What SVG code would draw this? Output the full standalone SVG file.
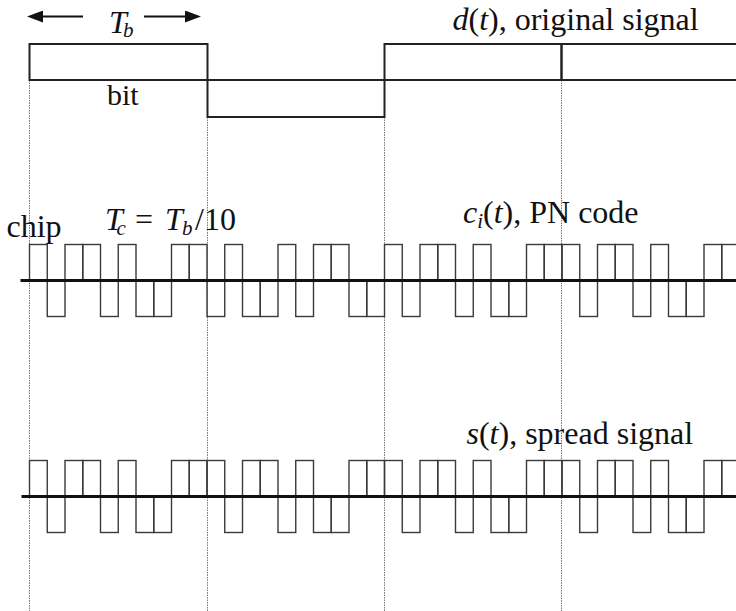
<svg xmlns="http://www.w3.org/2000/svg" xmlns:xlink="http://www.w3.org/1999/xlink" width="736" height="611" viewBox="0 0 736 611">
<style>
  .t { font-family: "Liberation Serif", "Times New Roman", serif; font-size: 32px; fill: #111; }
  .it { font-style: italic; }
  .sub { font-size: 21px; font-style: italic; }
  .dsig { fill: none; stroke: #222; stroke-width: 2; }
  .grid { stroke: #777; stroke-width: 1; stroke-dasharray: 1.5 1; fill: none; }
  .base { stroke: #111; stroke-width: 3; }
  .chip { fill: none; stroke: #3a3a3a; stroke-width: 1.4; }
  .arr { stroke: #111; stroke-width: 2; fill: none; marker-end: url(#ah); }
</style>
<defs>
  <marker id="ah" viewBox="0 0 16 12" refX="12" refY="6" markerWidth="16" markerHeight="12" markerUnits="userSpaceOnUse" orient="auto">
    <path d="M0,0 L16,6 L0,12 z" fill="#111"/>
  </marker>
  <rect id="ch" class="chip" width="17.75" height="36"/>
</defs>
<rect width="736" height="611" fill="#fff"/>

<g id="gridlines">
  <line class="grid" x1="29.5" y1="80" x2="29.5" y2="611"/>
  <line class="grid" x1="207.5" y1="117" x2="207.5" y2="611"/>
  <line class="grid" x1="384.5" y1="117" x2="384.5" y2="611"/>
  <line class="grid" x1="561.5" y1="80" x2="561.5" y2="611"/>
</g>

<g id="tb-arrows">
  <line class="arr" x1="83" y1="16.5" x2="31" y2="16.5"/>
  <line class="arr" x1="144" y1="16.5" x2="197" y2="16.5"/>
  <text class="t" x="109" y="33"><tspan class="it">T</tspan><tspan class="sub" x="123" dy="4">b</tspan></text>
</g>

<g id="d-signal">
  <rect class="dsig" x="29.5" y="44" width="178" height="36"/>
  <rect class="dsig" x="207.5" y="80" width="177" height="37"/>
  <rect class="dsig" x="384.5" y="44" width="177" height="36"/>
  <rect class="dsig" x="561.5" y="44" width="180" height="36"/>
  <text class="t" x="107" y="105" style="font-size:30px">bit</text>
  <text class="t" x="452.5" y="29.5"><tspan class="it">d</tspan>(<tspan class="it">t</tspan>), original signal</text>
</g>

<g id="c-signal">
  <text class="t" x="6.5" y="236.5">chip</text>
  <text class="t" x="105" y="230"><tspan class="it">T</tspan><tspan class="sub" x="116.5" dy="5">c</tspan><tspan x="135" dy="-5">=</tspan><tspan class="it" x="165">T</tspan><tspan class="sub" x="182" dy="5">b</tspan><tspan x="195" dy="-5">/10</tspan></text>
  <text class="t" x="463" y="223"><tspan class="it">c</tspan><tspan class="sub" dy="5">i</tspan><tspan dy="-5">(</tspan><tspan class="it">t</tspan>), PN code</text>
  <g id="c-chips">
    <use xlink:href="#ch" x="29.5" y="244.5"/>
    <use xlink:href="#ch" x="47.25" y="280.5"/>
    <use xlink:href="#ch" x="65" y="244.5"/>
    <use xlink:href="#ch" x="82.75" y="244.5"/>
    <use xlink:href="#ch" x="100.5" y="280.5"/>
    <use xlink:href="#ch" x="118.25" y="244.5"/>
    <use xlink:href="#ch" x="136" y="280.5"/>
    <use xlink:href="#ch" x="153.75" y="280.5"/>
    <use xlink:href="#ch" x="171.5" y="244.5"/>
    <use xlink:href="#ch" x="189.25" y="244.5"/>
    <use xlink:href="#ch" x="207" y="280.5"/>
    <use xlink:href="#ch" x="224.75" y="244.5"/>
    <use xlink:href="#ch" x="242.5" y="280.5"/>
    <use xlink:href="#ch" x="260.25" y="280.5"/>
    <use xlink:href="#ch" x="278" y="244.5"/>
    <use xlink:href="#ch" x="295.75" y="280.5"/>
    <use xlink:href="#ch" x="313.5" y="244.5"/>
    <use xlink:href="#ch" x="331.25" y="244.5"/>
    <use xlink:href="#ch" x="349" y="280.5"/>
    <use xlink:href="#ch" x="366.75" y="280.5"/>
    <use xlink:href="#ch" x="384.5" y="244.5"/>
    <use xlink:href="#ch" x="402.25" y="280.5"/>
    <use xlink:href="#ch" x="420" y="244.5"/>
    <use xlink:href="#ch" x="437.75" y="244.5"/>
    <use xlink:href="#ch" x="455.5" y="280.5"/>
    <use xlink:href="#ch" x="473.25" y="244.5"/>
    <use xlink:href="#ch" x="491" y="280.5"/>
    <use xlink:href="#ch" x="508.75" y="280.5"/>
    <use xlink:href="#ch" x="526.5" y="244.5"/>
    <use xlink:href="#ch" x="544.25" y="244.5"/>
    <use xlink:href="#ch" x="562" y="244.5"/>
    <use xlink:href="#ch" x="579.75" y="280.5"/>
    <use xlink:href="#ch" x="597.5" y="244.5"/>
    <use xlink:href="#ch" x="615.25" y="244.5"/>
    <use xlink:href="#ch" x="633" y="280.5"/>
    <use xlink:href="#ch" x="650.75" y="244.5"/>
    <use xlink:href="#ch" x="668.5" y="280.5"/>
    <use xlink:href="#ch" x="686.25" y="280.5"/>
    <use xlink:href="#ch" x="704" y="244.5"/>
    <use xlink:href="#ch" x="721.75" y="244.5"/>
  </g>
  <line class="base" x1="20.5" y1="280.5" x2="736" y2="280.5"/>
</g>

<g id="s-signal">
  <text class="t" x="466.5" y="443.5"><tspan class="it">s</tspan>(<tspan class="it">t</tspan>), spread signal</text>
  <g id="s-chips">
    <use xlink:href="#ch" x="29.5" y="460.5"/>
    <use xlink:href="#ch" x="47.25" y="496.5"/>
    <use xlink:href="#ch" x="65" y="460.5"/>
    <use xlink:href="#ch" x="82.75" y="460.5"/>
    <use xlink:href="#ch" x="100.5" y="496.5"/>
    <use xlink:href="#ch" x="118.25" y="460.5"/>
    <use xlink:href="#ch" x="136" y="496.5"/>
    <use xlink:href="#ch" x="153.75" y="496.5"/>
    <use xlink:href="#ch" x="171.5" y="460.5"/>
    <use xlink:href="#ch" x="189.25" y="460.5"/>
    <use xlink:href="#ch" x="207" y="460.5"/>
    <use xlink:href="#ch" x="224.75" y="496.5"/>
    <use xlink:href="#ch" x="242.5" y="460.5"/>
    <use xlink:href="#ch" x="260.25" y="460.5"/>
    <use xlink:href="#ch" x="278" y="496.5"/>
    <use xlink:href="#ch" x="295.75" y="460.5"/>
    <use xlink:href="#ch" x="313.5" y="496.5"/>
    <use xlink:href="#ch" x="331.25" y="496.5"/>
    <use xlink:href="#ch" x="349" y="460.5"/>
    <use xlink:href="#ch" x="366.75" y="460.5"/>
    <use xlink:href="#ch" x="384.5" y="460.5"/>
    <use xlink:href="#ch" x="402.25" y="496.5"/>
    <use xlink:href="#ch" x="420" y="460.5"/>
    <use xlink:href="#ch" x="437.75" y="460.5"/>
    <use xlink:href="#ch" x="455.5" y="496.5"/>
    <use xlink:href="#ch" x="473.25" y="460.5"/>
    <use xlink:href="#ch" x="491" y="496.5"/>
    <use xlink:href="#ch" x="508.75" y="496.5"/>
    <use xlink:href="#ch" x="526.5" y="460.5"/>
    <use xlink:href="#ch" x="544.25" y="460.5"/>
    <use xlink:href="#ch" x="562" y="460.5"/>
    <use xlink:href="#ch" x="579.75" y="496.5"/>
    <use xlink:href="#ch" x="597.5" y="460.5"/>
    <use xlink:href="#ch" x="615.25" y="460.5"/>
    <use xlink:href="#ch" x="633" y="496.5"/>
    <use xlink:href="#ch" x="650.75" y="460.5"/>
    <use xlink:href="#ch" x="668.5" y="496.5"/>
    <use xlink:href="#ch" x="686.25" y="496.5"/>
    <use xlink:href="#ch" x="704" y="460.5"/>
    <use xlink:href="#ch" x="721.75" y="460.5"/>
  </g>
  <line class="base" x1="21.5" y1="496.5" x2="736" y2="496.5"/>
</g>
</svg>
